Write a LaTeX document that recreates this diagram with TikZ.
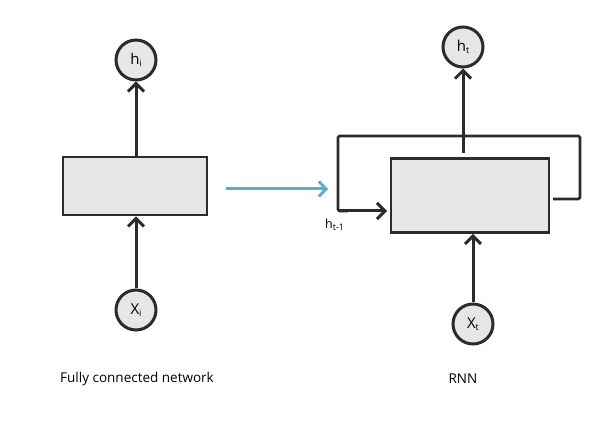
\documentclass[tikz,border=0pt]{standalone}
\usepackage{fontspec}
\setmainfont{Open Sans}
\usetikzlibrary{arrows.meta}
\definecolor{ink}{HTML}{2B2B2B}
\definecolor{cellfill}{HTML}{E6E6E6}
\definecolor{flowblue}{HTML}{5AAECB}
\newcommand{\sbs}[1]{\raisebox{-0.3ex}{\fontsize{9}{10}\selectfont #1}}
\tikzset{
  unit/.style={circle, draw=ink, line width=3pt, fill=cellfill, minimum size=40pt, inner sep=0pt, font=\fontsize{15}{17}\selectfont},
  cell/.style={draw=ink, line width=2.6pt, fill=cellfill, inner sep=0pt},
  link/.style={draw=ink, line width=3pt, -{Straight Barb[length=8pt,width=16pt,line width=3pt]}},
  wire/.style={draw=ink, line width=2.8pt},
  caption/.style={font=\fontsize{13.5}{15}\selectfont, text=black}
}
\begin{document}
\begin{tikzpicture}[x=1pt,y=-1pt]
\useasboundingbox (0,0) rectangle (600,427);
% left: fully connected
\node[cell, minimum width=144pt, minimum height=58pt] (fc) at (135,186) {};
\node[unit] (hi) at (136,60) {h\sbs{i}};
\node[unit] (xi) at (136,310) {X\sbs{i}};
\draw[link] (xi.north) -- (xi.north |- fc.south);
\draw[link] (fc.north -| hi.south) -- (hi.south);
\node[caption] (cap1) at (137,379) {Fully connected network};
% flow arrow
\coordinate (fa) at (226,189);
\coordinate (fb) at (328,189);
\draw[flowblue, line width=3pt, -{Straight Barb[length=7pt,width=15pt,line width=3pt]}] (fa) -- (fb);
% right: RNN
\node[cell, minimum width=158pt, minimum height=74pt] (rnn) at (470,195.5) {};
\node[unit] (ht) at (463,47) {h\sbs{t}};
\node[unit] (xt) at (473,324) {X\sbs{t}};
\coordinate (up) at (463,153);
\draw[link] (up) -- (ht.south);
\draw[link] (xt.north) -- (xt.north |- rnn.south);
\coordinate (tl) at (338,136);
\coordinate (tr) at (580,136);
\coordinate (br) at (580,199);
\coordinate (be) at (553,199);
\coordinate (bl) at (338,211);
\coordinate (ae) at (387,211);
\draw[wire, rounded corners=1.5pt] (be) -- (br) -- (tr) -- (tl) -- (bl) -- ++(10,0);
\draw[link] (bl) -- (ae);
\node[font=\fontsize{12.5}{14}\selectfont, anchor=west, inner sep=0pt] (hprev) at (325,225) {h\sbs{t-1}};
\node[caption] (cap2) at (463,379) {RNN};
\end{tikzpicture}
\end{document}
